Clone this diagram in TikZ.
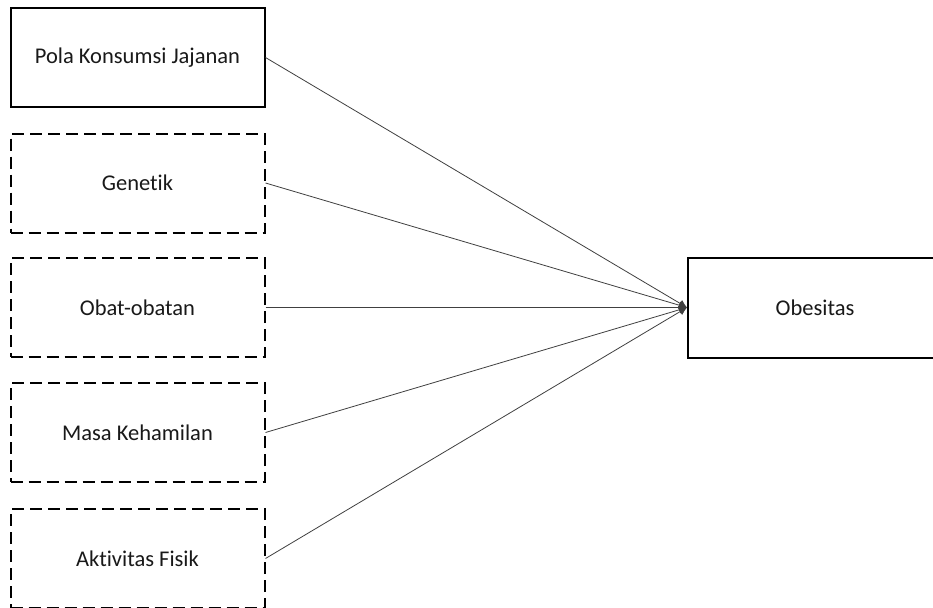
\documentclass[tikz,border=0pt]{standalone}
\usepackage{fontspec}
\setmainfont[Ligatures=NoCommon]{Carlito}
\usetikzlibrary{arrows.meta}
\begin{document}
\begin{tikzpicture}[x=1pt,y=-1pt,
  box/.style={draw=black,line width=2pt,minimum width=254pt,minimum height=99pt,inner sep=0pt,
    font=\fontsize{22.5}{27}\selectfont,text=black!90},
  dbox/.style={box,dash pattern=on 12pt off 6pt},
  conn/.style={draw=black!75,line width=0.8pt,-{Latex[length=8pt,width=8pt]}}]
\useasboundingbox (0,0) rectangle (933,607);
\clip (0,0) rectangle (933,607);
\fill[white] (0,0) rectangle (933,607);
\node[box]  (pola)  at (137.5,57.5) {Pola Konsumsi Jajanan};
\node[dbox] (gen)   at (137.5,183) {Genetik};
\node[dbox] (obat)  at (137.5,307.5) {Obat-obatan};
\node[dbox] (masa)  at (137.5,432.5) {Masa Kehamilan};
\node[dbox] (akt)   at (137.5,558.5) {Aktivitas Fisik};
\node[box,minimum width=254pt,minimum height=100pt] (obes) at (815,307.5) {Obesitas};
\draw[conn] (pola.east) -- (obes.west);
\draw[conn] (gen.east) -- (obes.west);
\draw[conn] (obat.east) -- (obes.west);
\draw[conn] (masa.east) -- (obes.west);
\draw[conn] (akt.east) -- (obes.west);
\end{tikzpicture}
\end{document}
